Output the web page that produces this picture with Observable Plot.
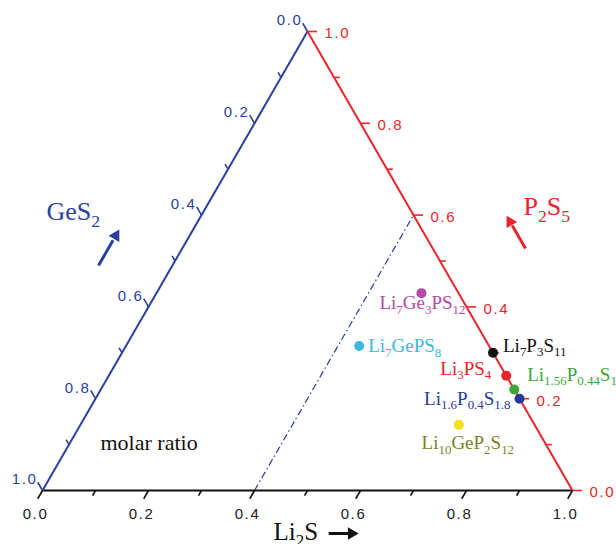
<!DOCTYPE html>
<html><head><meta charset="utf-8">
<script src="https://cdn.jsdelivr.net/npm/d3@7"></script>
<script src="https://cdn.jsdelivr.net/npm/@observablehq/plot@0.6"></script>
<style>
html,body{margin:0;padding:0;background:#fff;overflow:hidden;}
</style></head><body><div id="chart"></div>
<script>
// ---- data (molar fractions) ----
const compounds = ["Li_{7}Ge_{3}PS_{12}", "Li_{7}GePS_{8}", "Li_{7}P_{3}S_{11}", "Li_{3}PS_{4}",
                   "Li_{1.56}P_{0.44}S_{1.88}", "Li_{1.6}P_{0.4}S_{1.8}", "Li_{10}GeP_{2}S_{12}"];
const li2sFrac = [0.50, 0.44, 0.70, 0.75, 0.78, 0.80, 0.714];
const p2s5Frac = [0.43, 0.315, 0.30, 0.25, 0.22, 0.20, 0.143];
const dotColors = ["#b24aa6", "#3bb9de", "#111111", "#e8242c", "#3ca83c", "#27399a", "#f2e11a"];
const labelColors = ["#b24aa6", "#3bb9de", "#111111", "#e8242c", "#3ca83c", "#27399a", "#7f7f2a"];
const majorTicks = [0.0, 0.2, 0.4, 0.6, 0.8, 1.0];
const minorTicks = [0.1, 0.3, 0.5, 0.7, 0.9];
const tickLabels = ["0.0", "0.2", "0.4", "0.6", "0.8", "1.0"];
const axisNames = ["Li_{2}S", "GeS_{2}", "P_{2}S_{5}"];
const noteText = "molar ratio";
const boundaryLi2S = 0.4;   // dash-dot line: Li2S = 0.4

// ---- styles ----
const BLUE = "#2b3f9f", RED = "#e8242c", BLACK = "#111111";
const SERIF = "Liberation Serif, Times New Roman, serif";
const SANS = "Liberation Sans, Arial, sans-serif";
const labelStyle = [
  {dx: -42, dy: 10, anchor: "start"},
  {dx: 9, dy: 0, anchor: "start"},
  {dx: 10, dy: -7, anchor: "start"},
  {dx: -15, dy: -7, anchor: "end"},
  {dx: 13, dy: -15, anchor: "start"},
  {dx: -9, dy: 0, anchor: "end"},
  {dx: 9, dy: 18, anchor: "middle"}
];

// ternary -> cartesian (GeS2 at bottom-left, Li2S bottom-right, P2S5 top)
const S = Math.sqrt(3) / 2;
const cx = (li, p) => li + p / 2;
const cy = p => p * S;
const LMAJ = 0.018, LMIN = 0.011;
const allTicks = majorTicks.concat(minorTicks);
const isMajor = t => majorTicks.includes(t);
const len = t => isMajor(t) ? LMAJ : LMIN;

const edges = [
  {from: [0, 0], to: [1, 0], stroke: BLACK},
  {from: [0, 0], to: [0, 1], stroke: BLUE},
  {from: [1, 0], to: [0, 1], stroke: RED}
];
const idx = compounds.map((c, i) => i);

const marks = [
  // dash-dot boundary
  Plot.link([boundaryLi2S], {x1: v => cx(v, 0), y1: () => 0, x2: v => cx(v, 1 - v), y2: v => cy(1 - v),
    stroke: "#2a3a9a", strokeWidth: 1.2, strokeDasharray: "7,3,1.5,3"}),
  // edges
  Plot.link(edges, {x1: d => cx(d.from[0], d.from[1]), y1: d => cy(d.from[1]),
    x2: d => cx(d.to[0], d.to[1]), y2: d => cy(d.to[1]), stroke: d => d.stroke, strokeWidth: 2}),
  // bottom ticks (Li2S)
  Plot.link(allTicks, {x1: t => cx(t, 0), y1: () => 0, x2: t => cx(t, 0) - 0.5 * len(t), y2: t => -S * len(t),
    stroke: BLACK, strokeWidth: 1.6}),
  // left ticks (GeS2)
  Plot.link(allTicks, {x1: g => cx(0, 1 - g), y1: g => cy(1 - g), x2: g => cx(0, 1 - g) - 0.5 * len(g),
    y2: g => cy(1 - g) + S * len(g), stroke: BLUE, strokeWidth: 1.6}),
  // right ticks (P2S5)
  Plot.link(allTicks, {x1: c => cx(1 - c, c), y1: c => cy(c), x2: c => cx(1 - c, c) + len(c), y2: c => cy(c),
    stroke: RED, strokeWidth: 1.6}),
  // tick labels
  Plot.text(majorTicks, {x: t => cx(t, 0), y: () => 0, text: (t, i) => tickLabels[i], dx: -7, dy: 24,
    fill: "#222", fontFamily: SANS, fontSize: 15}),
  Plot.text(majorTicks, {x: g => cx(0, 1 - g), y: g => cy(1 - g), text: (g, i) => tickLabels[i], textAnchor: "end",
    dx: -5, dy: -11, fill: BLUE, fontFamily: SANS, fontSize: 15}),
  Plot.text(majorTicks, {x: c => cx(1 - c, c), y: c => cy(c), text: (c, i) => tickLabels[i], textAnchor: "start",
    dx: 17, dy: 2, fill: RED, fontFamily: SANS, fontSize: 15}),
  // data points
  Plot.dot(idx, {x: i => cx(li2sFrac[i], p2s5Frac[i]), y: i => cy(p2s5Frac[i]), r: 5, fill: i => dotColors[i]}),
  // axis titles
  Plot.text([0.5], {x: v => cx(v, 0), y: () => 0, text: () => axisNames[0], textAnchor: "start", dx: -34, dy: 41,
    fill: BLACK, fontFamily: SERIF, fontSize: 25}),
  Plot.text([0.4], {x: g => cx(0, 1 - g), y: g => cy(1 - g), text: () => axisNames[1], textAnchor: "start", dx: -155, dy: -3,
    fill: BLUE, fontFamily: SERIF, fontSize: 26}),
  Plot.text([0.6], {x: c => cx(1 - c, c), y: c => cy(c), text: () => axisNames[2], textAnchor: "start", dx: 110, dy: -8,
    fill: RED, fontFamily: SERIF, fontSize: 26}),
  Plot.text([0.1], {x: v => cx(v, 0), y: () => 0, text: () => noteText, textAnchor: "start", dx: 5, dy: -48,
    fill: BLACK, fontFamily: SERIF, fontSize: 22}),
  // direction arrows: Li2S (along bottom), GeS2 (parallel to left edge), P2S5 (parallel to right edge)
  Plot.link([[0.54, 0.578]], {x1: d => cx(d[0], 0), y1: () => 0, x2: d => cx(d[1], 0), y2: () => 0, dy: 43,
    stroke: BLACK, strokeWidth: 3}),
  Plot.dot([0.583], {x: v => cx(v, 0), y: () => 0, dy: 43, symbol: "triangle", rotate: 90, r: 4.6, fill: BLACK}),
  Plot.link([[0.48, 0.425]], {x1: d => cx(0, 1 - d[0]), y1: d => cy(1 - d[0]), x2: d => cx(0, 1 - d[1]), y2: d => cy(1 - d[1]),
    dx: -81.8, dy: 13.7, stroke: BLUE, strokeWidth: 3}),
  Plot.dot([0.415], {x: g => cx(0, 1 - g), y: g => cy(1 - g), dx: -81.8, dy: 13.7, symbol: "triangle", rotate: 30, r: 4.6, fill: BLUE}),
  Plot.link([[0.52, 0.57]], {x1: d => cx(1 - d[0], d[0]), y1: d => cy(d[0]), x2: d => cx(1 - d[1], d[1]), y2: d => cy(d[1]),
    dx: 90.8, dy: -3.3, stroke: RED, strokeWidth: 3}),
  Plot.dot([0.578], {x: c => cx(1 - c, c), y: c => cy(c), dx: 90.8, dy: -3.3, symbol: "triangle", rotate: -30, r: 4.6, fill: RED})
];
// compound labels
idx.forEach(i => {
  marks.push(Plot.text([i], {x: j => cx(li2sFrac[j], p2s5Frac[j]), y: j => cy(p2s5Frac[j]), text: j => compounds[j],
    fill: labelColors[i], dx: labelStyle[i].dx, dy: labelStyle[i].dy, textAnchor: labelStyle[i].anchor,
    fontFamily: SERIF, fontSize: 19}));
});

const chart = Plot.plot({
  width: 616, height: 544,
  marginLeft: 42, marginRight: 44, marginTop: 31, marginBottom: 54,
  x: {domain: [0, 1], axis: null},
  y: {domain: [0, S], axis: null},
  color: {type: "identity"},
  style: {background: "#fff", overflow: "hidden"},
  marks
});
document.getElementById("chart").appendChild(chart);

// letter spacing on tick labels
const tickSet = new Set(tickLabels);
d3.select(chart).selectAll("text").each(function () {
  if (tickSet.has(this.textContent.trim())) this.style.letterSpacing = "1.6px";
});

// subscripts
d3.select(chart).selectAll("text").each(function () {
  const t = this.textContent;
  if (!t.includes("_{")) return;
  const fs = parseFloat(getComputedStyle(this).fontSize) || 16;
  const sub = fs * 0.68, shift = fs * 0.24;
  this.textContent = "";
  const re = /_\{([^}]*)\}/g;
  let last = 0, m, lowered = false;
  const sel = d3.select(this);
  while ((m = re.exec(t)) !== null) {
    if (m.index > last) {
      const ts = sel.append("tspan").text(t.slice(last, m.index));
      if (lowered) { ts.attr("dy", -shift); lowered = false; }
    }
    const s = sel.append("tspan").text(m[1]).attr("font-size", sub);
    if (!lowered) { s.attr("dy", shift); lowered = true; }
    last = re.lastIndex;
  }
  if (last < t.length) {
    const ts = sel.append("tspan").text(t.slice(last));
    if (lowered) ts.attr("dy", -shift);
  }
});
</script>
</body></html>
